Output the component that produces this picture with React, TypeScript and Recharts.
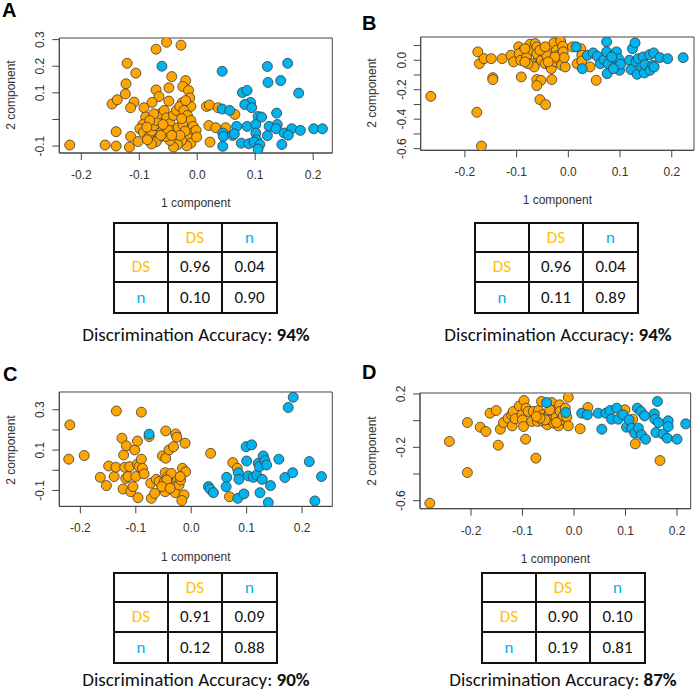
import { ReferenceArea, Scatter, ScatterChart, XAxis, YAxis } from "recharts";

type Pt = [number, number];

const COLORS = {
  ds: "#FFA500",
  n: "#00B2EE",
  dotStroke: "#3a3a3a",
  frame: "#444",
  text: "#333",
  dsHead: "#FFC000",
  nHead: "#00B0F0",
};

const xTicks = [-0.2, -0.1, 0, 0.1, 0.2];

// panel A
const aTicksY = [-0.1, 0, 0.1, 0.2, 0.3];
const aLabelsY = [-0.1, 0.1, 0.2, 0.3];
const aDS: Pt[] = [
  [-0.22, -0.096], [-0.159, -0.096], [-0.14, -0.1], [-0.117, -0.104], [-0.14, -0.046],
  [-0.115, -0.064], [-0.102, -0.083], [-0.147, 0.058], [-0.138, 0.074], [-0.124, 0.096],
  [-0.123, 0.134], [-0.121, 0.211], [-0.106, 0.174], [-0.109, 0.065], [-0.115, 0.044],
  [-0.071, 0.264], [-0.053, 0.29], [-0.028, 0.279], [-0.044, 0.161], [-0.02, 0.146],
  [-0.071, 0.111], [-0.049, 0.119], [-0.025, 0.124], [-0.015, 0.109], [-0.013, 0.081],
  [-0.066, 0.086], [-0.078, 0.064], [-0.049, 0.069], [-0.026, 0.063], [-0.011, 0.049],
  [0.016, 0.049], [0.021, 0.054], [0.036, 0.044], [0.065, 0.019], [0.02, -0.023],
  [0.032, -0.031], [0.049, -0.031], [0.022, -0.085],
  [-0.092, 0.044], [-0.089, 0.009], [-0.094, -0.019], [-0.099, -0.035], [-0.093, -0.048],
  [-0.084, -0.066], [-0.079, -0.044], [-0.075, -0.023], [-0.07, -0.004], [-0.064, 0.021],
  [-0.057, 0.034], [-0.053, 0.006], [-0.047, -0.016], [-0.041, 0.015], [-0.036, 0.034],
  [-0.03, 0.049], [-0.023, 0.034], [-0.017, 0.015], [-0.011, -0.004], [-0.007, -0.026],
  [-0.01, -0.051], [-0.016, -0.069], [-0.011, -0.089], [-0.018, -0.099], [-0.027, -0.079],
  [-0.034, -0.094], [-0.041, -0.104], [-0.047, -0.079], [-0.054, -0.064], [-0.06, -0.044],
  [-0.066, -0.069], [-0.071, -0.084], [-0.079, -0.092], [-0.086, -0.076], [-0.041, -0.041],
  [-0.033, -0.031], [-0.025, -0.019], [-0.021, -0.044], [-0.03, -0.06], [-0.05, -0.041],
  [-0.059, -0.019], [-0.075, 0.021], [-0.082, -0.004], [-0.087, -0.029], [-0.063, -0.06],
  [-0.044, -0.06], [-0.02, 0.071], [-0.027, 0.003], [-0.002, -0.041], [-0.001, -0.066],
];
const aN: Pt[] = [
  [-0.061, 0.2], [0.043, 0.181], [0.121, 0.199], [0.156, 0.211], [0.122, 0.139],
  [0.144, 0.146], [0.175, 0.099], [0.078, 0.101], [0.086, 0.109], [0.092, 0.064],
  [0.082, 0.056], [0.094, 0.044], [0.043, 0.039], [0.056, 0.034], [0.137, 0.024],
  [0.105, 0.011], [0.111, 0.009], [0.068, -0.026], [0.086, -0.026], [0.101, -0.019],
  [0.124, -0.026], [0.138, -0.019], [0.136, -0.035], [0.163, -0.035], [0.178, -0.041],
  [0.201, -0.035], [0.216, -0.035], [0.15, -0.051], [0.157, -0.059], [0.044, -0.051],
  [0.045, -0.064], [0.061, -0.06], [0.064, -0.054], [0.101, -0.051], [0.121, -0.061],
  [0.102, -0.076], [0.076, -0.089], [0.089, -0.091], [0.098, -0.084], [0.108, -0.094],
  [0.105, -0.111], [0.146, -0.094], [0.044, -0.101],
];

// panel B
const bTicksY = [-0.6, -0.5, -0.4, -0.3, -0.2, -0.1, 0, 0.1];
const bLabelsY = [-0.6, -0.4, -0.2, 0];
const bDS: Pt[] = [
  [-0.266, -0.245], [-0.177, -0.353], [-0.168, -0.582], [-0.175, 0.057], [-0.172, -0.023],
  [-0.163, 0.011], [-0.149, 0.011], [-0.146, -0.118], [-0.146, -0.131], [-0.128, 0.011],
  [-0.111, 0.034], [-0.106, -0.011], [-0.091, -0.113], [-0.096, 0.091], [-0.087, 0.068],
  [-0.095, 0.045], [-0.092, 0], [-0.081, 0.023], [-0.074, 0.109], [-0.069, 0.068],
  [-0.064, 0.113], [-0.061, 0.091], [-0.071, -0.023], [-0.066, -0.045], [-0.058, 0.023],
  [-0.061, 0.045], [-0.052, 0], [-0.048, 0.057], [-0.045, -0.023], [-0.061, -0.131],
  [-0.053, -0.136], [-0.061, -0.172], [-0.055, -0.267], [-0.044, -0.301], [-0.035, 0.045],
  [-0.032, 0.011], [-0.035, -0.034], [-0.033, -0.057], [-0.032, -0.131], [-0.028, 0.118],
  [-0.023, 0.068], [-0.019, 0.034], [-0.024, -0.011], [-0.016, 0], [-0.015, 0.131],
  [-0.011, 0.095], [-0.01, 0.057], [-0.013, -0.034], [-0.006, -0.045], [-0.008, 0.018],
  [0.008, 0.091], [0.024, 0.079], [0.026, 0.034], [0.017, -0.023], [0.026, -0.005],
  [0.042, -0.045], [0.054, -0.136], [-0.084, 0.079], [-0.078, -0.023], [-0.042, 0.034],
  [-0.026, 0.023], [-0.039, -0.011], [-0.055, 0.068], [-0.045, 0.091], [-0.084, -0.011],
];
const bN: Pt[] = [
  [0.015, 0.091], [0.027, -0.057], [0.037, 0.034], [0.048, 0.05], [0.056, 0.027],
  [0.062, -0.023], [0.069, 0.005], [0.074, 0.125], [0.074, 0.057], [0.077, -0.023],
  [0.075, -0.091], [0.087, 0.034], [0.09, -0.045], [0.093, 0.057], [0.097, 0.011],
  [0.099, -0.068], [0.101, -0.027], [0.087, -0.057], [0.118, 0], [0.121, -0.063],
  [0.124, 0.079], [0.129, 0.118], [0.131, -0.011], [0.135, 0.011], [0.133, -0.095],
  [0.142, -0.045], [0.145, 0.023], [0.147, -0.086], [0.148, -0.029], [0.157, 0.038],
  [0.158, -0.068], [0.163, -0.034], [0.165, 0.05], [0.166, -0.045], [0.177, 0.018],
  [0.192, 0.011], [0.222, 0.018], [0.084, 0.023],
];

// panel C
const cTicksY = [-0.1, 0, 0.1, 0.2, 0.3];
const cLabelsY = [-0.1, 0.1, 0.3];
const cDS: Pt[] = [
  [-0.219, 0.225], [-0.221, 0.055], [-0.193, 0.073], [-0.135, 0.294], [-0.09, 0.288],
  [-0.164, -0.035], [-0.153, -0.076], [-0.149, 0.021], [-0.139, -0.031], [-0.136, 0.015],
  [-0.125, 0.159], [-0.122, 0.076], [-0.117, 0.121], [-0.123, -0.093], [-0.12, 0.015],
  [-0.118, -0.04], [-0.114, -0.031], [-0.111, 0.018], [-0.109, -0.106], [-0.102, 0.101],
  [-0.097, 0.145], [-0.1, -0.031], [-0.105, -0.081], [-0.097, 0.031], [-0.094, 0.018],
  [-0.096, -0.136], [-0.09, 0.055], [-0.088, 0.01], [-0.085, -0.018], [-0.076, 0.167],
  [-0.072, -0.139], [-0.073, -0.064], [-0.066, -0.114], [-0.063, -0.045], [-0.058, -0.056],
  [-0.052, 0.071], [-0.046, 0.06], [-0.046, 0.195], [-0.049, -0.058], [-0.047, -0.012],
  [-0.047, -0.106], [-0.042, -0.031], [-0.04, 0.101], [-0.036, -0.064], [-0.032, 0.117],
  [-0.029, -0.081], [-0.029, -0.111], [-0.028, 0.18], [-0.026, 0.164], [-0.025, -0.04],
  [-0.022, -0.073], [-0.019, -0.048], [-0.016, 0.01], [-0.013, -0.122], [-0.017, -0.15],
  [-0.011, 0.134], [-0.01, -0.007], [-0.036, -0.015], [-0.044, -0.048], [-0.053, -0.081],
  [-0.038, -0.089], [-0.02, -0.031], [0.035, 0.084], [0.075, 0.038], [0.083, 0.01],
  [0.069, -0.131],
];
const cN: Pt[] = [
  [-0.076, 0.179], [0.031, -0.081], [0.034, -0.093], [0.04, -0.111], [0.064, -0.035],
  [0.063, -0.081], [0.084, -0.139], [0.085, -0.012], [0.086, -0.045], [0.095, -0.117],
  [0.099, 0.117], [0.1, 0.046], [0.103, -0.028], [0.109, 0.126], [0.112, -0.035],
  [0.118, -0.023], [0.121, 0.035], [0.123, 0.018], [0.124, -0.111], [0.128, -0.045],
  [0.13, 0.071], [0.133, 0.048], [0.136, 0.026], [0.139, -0.16], [0.143, -0.076],
  [0.158, 0.055], [0.169, -0.036], [0.175, 0.311], [0.183, -0.012], [0.184, 0.362],
  [0.213, 0.043], [0.223, -0.152], [0.235, -0.031],
];

// panel D
const dTicksY = [-0.6, -0.4, -0.2, 0, 0.2];
const dLabelsY = [-0.6, -0.2, 0.2];
const dDS: Pt[] = [
  [-0.28, -0.619], [-0.242, -0.156], [-0.207, -0.389], [-0.207, -0.014], [-0.182, -0.049],
  [-0.171, -0.081], [-0.163, 0.056], [-0.151, 0.076], [-0.147, -0.184], [-0.143, -0.064],
  [-0.137, -0.014], [-0.128, 0.019], [-0.121, 0.044], [-0.12, -0.039], [-0.118, 0.069],
  [-0.114, 0.014], [-0.106, 0.111], [-0.101, 0.044], [-0.1, 0.006], [-0.098, -0.044],
  [-0.097, 0.151], [-0.094, -0.139], [-0.093, 0.094], [-0.089, 0.069], [-0.082, -0.006],
  [-0.079, 0.069], [-0.074, -0.281], [-0.071, -0.006], [-0.069, 0.076], [-0.063, 0.144],
  [-0.061, 0.044], [-0.06, -0.006], [-0.053, 0.026], [-0.052, -0.031], [-0.048, 0.051],
  [-0.045, 0.006], [-0.043, 0.136], [-0.04, 0.076], [-0.039, -0.019], [-0.035, 0.026],
  [-0.03, -0.039], [-0.028, 0.119], [-0.027, 0.069], [-0.026, 0.006], [-0.021, 0.036],
  [-0.017, 0.094], [-0.014, 0.026], [-0.011, -0.039], [-0.011, 0.176], [0.012, -0.061],
  [0.027, 0.099], [0.099, 0.081], [0.114, 0.011], [0.119, -0.174], [0.167, -0.299],
  [-0.047, 0.081], [-0.056, 0.006], [-0.066, 0.019], [-0.034, -0.014], [-0.073, 0.031],
];
const dN: Pt[] = [
  [-0.053, 0.136], [-0.016, 0.061], [0.015, 0.056], [0.026, 0.044], [0.047, 0.056],
  [0.054, -0.064], [0.062, 0.056], [0.07, 0.076], [0.073, 0.011], [0.083, 0.094],
  [0.086, 0.011], [0.095, 0.044], [0.102, -0.049], [0.107, 0.006], [0.112, -0.056],
  [0.118, -0.094], [0.123, 0.094], [0.125, -0.056], [0.13, 0.069], [0.131, -0.106],
  [0.137, 0.036], [0.139, -0.139], [0.156, 0.051], [0.157, 0.011], [0.159, -0.089],
  [0.162, 0.144], [0.164, -0.014], [0.173, -0.101], [0.181, -0.131], [0.183, -0.001],
  [0.183, -0.044], [0.2, -0.139], [0.217, -0.024],
];

// confusion tables (rows: DS, n)
const tableA = [[0.96, 0.04], [0.1, 0.9]];
const tableB = [[0.96, 0.04], [0.11, 0.89]];
const tableC = [[0.91, 0.09], [0.12, 0.88]];
const tableD = [[0.9, 0.1], [0.19, 0.81]];
const accuracy = [94, 94, 90, 87];

interface Box {
  l: number;
  t: number;
  r: number;
  b: number;
}

interface PanelProps {
  letter: string;
  letterX: number;
  letterY: number;
  chartLeft: number;
  box: Box;
  xDomain: [number, number];
  yDomain: [number, number];
  yTicks: number[];
  yLabels: number[];
  ds: Pt[];
  n: Pt[];
}

const tickFont = { fontFamily: "'Liberation Sans', Arial, sans-serif", fontSize: 12, fill: COLORS.text };

const toRows = (pts: Pt[]) => pts.map(([x, y]) => ({ x, y }));

const dot = (fill: string) => (props: any) => (
  <circle cx={props.cx} cy={props.cy} r={5} fill={fill} stroke={COLORS.dotStroke} strokeWidth={0.8} />
);

function Panel({ letter, letterX, letterY, chartLeft, box, xDomain, yDomain, yTicks, yLabels, ds, n }: PanelProps) {
  const chartTop = box.t - 10;
  const width = chartLeft === 0 ? 345 : 697 - chartLeft;
  const height = box.b + 34 - chartTop;
  const yAxisW = box.l - chartLeft;
  const xAxisH = chartTop + height - box.b;
  const boxBottom = box.b - chartTop;

  const xTick = (p: any) => (
    <text x={p.x} y={boxBottom + 26} textAnchor="middle" {...tickFont}>
      {p.payload.value.toFixed(1)}
    </text>
  );
  const yTick = (p: any) => {
    const v = p.payload.value;
    if (!yLabels.some((l) => Math.abs(l - v) < 1e-9)) return <g />;
    const x = yAxisW - 19;
    return (
      <text x={x} y={p.y} transform={`rotate(-90, ${x}, ${p.y})`} textAnchor="middle" dominantBaseline="central" {...tickFont}>
        {v.toFixed(1)}
      </text>
    );
  };

  return (
    <>
      <div style={{ position: "absolute", left: letterX, top: letterY - 19, font: "bold 20px 'Liberation Sans', Arial, sans-serif", lineHeight: "23px" }}>
        {letter}
      </div>
      <div style={{ position: "absolute", left: chartLeft, top: chartTop }}>
        <ScatterChart width={width} height={height} margin={{ top: 10, right: chartLeft + width - box.r, left: 0, bottom: 0 }}>
          <XAxis
            type="number"
            dataKey="x"
            domain={xDomain}
            ticks={xTicks}
            allowDataOverflow
            interval={0}
            height={xAxisH}
            tickSize={7}
            tickLine={{ stroke: COLORS.frame }}
            axisLine={{ stroke: COLORS.frame }}
            tick={xTick}
          />
          <YAxis
            type="number"
            dataKey="y"
            domain={yDomain}
            ticks={yTicks}
            allowDataOverflow
            interval={0}
            width={yAxisW}
            tickSize={7}
            tickLine={{ stroke: COLORS.frame }}
            axisLine={{ stroke: COLORS.frame }}
            tick={yTick}
          />
          <Scatter data={toRows(ds)} isAnimationActive={false} shape={dot(COLORS.ds)} />
          <Scatter data={toRows(n)} isAnimationActive={false} shape={dot(COLORS.n)} />
          <ReferenceArea x1={xDomain[0]} x2={xDomain[1]} y1={yDomain[0]} y2={yDomain[1]} fill="none" stroke={COLORS.frame} strokeWidth={1} />
        </ScatterChart>
      </div>
      <div
        style={{
          position: "absolute",
          left: box.l - 48.5 - 60,
          top: (box.t + box.b) / 2 - 8,
          width: 120,
          height: 16,
          textAlign: "center",
          transform: "rotate(-90deg)",
          font: "12px 'Liberation Sans', Arial, sans-serif",
          lineHeight: "16px",
          color: COLORS.text,
        }}
      >
        2 component
      </div>
      <div
        style={{
          position: "absolute",
          left: (box.l + box.r) / 2 - 60,
          top: box.b + 42,
          width: 120,
          textAlign: "center",
          font: "12px 'Liberation Sans', Arial, sans-serif",
          lineHeight: "16px",
          color: COLORS.text,
        }}
      >
        1 component
      </div>
    </>
  );
}

const cellFont = "17px Carlito, Lato, 'Open Sans', sans-serif";

interface ConfusionProps {
  left: number;
  top: number;
  values: number[][];
  acc: number;
  accCenter: number;
  accY: number;
}

function Confusion({ left, top, values, acc, accCenter, accY }: ConfusionProps) {
  const cells: { text: string; color: string }[] = [
    { text: "", color: "#000" },
    { text: "DS", color: COLORS.dsHead },
    { text: "n", color: COLORS.nHead },
    { text: "DS", color: COLORS.dsHead },
    { text: values[0][0].toFixed(2), color: "#111" },
    { text: values[0][1].toFixed(2), color: "#111" },
    { text: "n", color: COLORS.nHead },
    { text: values[1][0].toFixed(2), color: "#111" },
    { text: values[1][1].toFixed(2), color: "#111" },
  ];
  return (
    <>
      <div
        style={{
          position: "absolute",
          left,
          top,
          width: 165,
          height: 92,
          boxSizing: "border-box",
          border: "2px solid #111",
          display: "grid",
          gridTemplateColumns: "54px 54px 1fr",
          gridTemplateRows: "1fr 1fr 1fr",
        }}
      >
        {cells.map((c, i) => (
          <div
            key={i}
            style={{
              borderRight: i % 3 < 2 ? "2px solid #111" : "none",
              borderBottom: i < 6 ? "2px solid #111" : "none",
              display: "flex",
              alignItems: "center",
              justifyContent: "center",
              font: cellFont,
              color: c.color,
            }}
          >
            {c.text}
          </div>
        ))}
      </div>
      <div
        style={{
          position: "absolute",
          left: accCenter - 150,
          top: accY - 9,
          width: 300,
          textAlign: "center",
          font: "19px Carlito, Lato, 'Open Sans', sans-serif",
          lineHeight: "18px",
          color: "#111",
        }}
      >
        Discrimination Accuracy: <b>{acc}%</b>
      </div>
    </>
  );
}

export default function App() {
  return (
    <div style={{ position: "absolute", left: 0, top: 0, width: 697, height: 693, background: "#fff" }}>
      <Panel
        letter="A"
        letterX={2}
        letterY={18}
        chartLeft={0}
        box={{ l: 59.3, t: 37.7, r: 332.3, b: 152.7 }}
        xDomain={[-0.238, 0.233]}
        yDomain={[-0.126, 0.306]}
        yTicks={aTicksY}
        yLabels={aLabelsY}
        ds={aDS}
        n={aN}
      />
      <Panel
        letter="B"
        letterX={362}
        letterY={31}
        chartLeft={355}
        box={{ l: 420.7, t: 36.7, r: 694, b: 150 }}
        xDomain={[-0.2855, 0.243]}
        yDomain={[-0.611, 0.158]}
        yTicks={bTicksY}
        yLabels={bLabelsY}
        ds={bDS}
        n={bN}
      />
      <Panel
        letter="C"
        letterX={3}
        letterY={382}
        chartLeft={0}
        box={{ l: 59.3, t: 392.3, r: 332.3, b: 506.7 }}
        xDomain={[-0.238, 0.2545]}
        yDomain={[-0.179, 0.388]}
        yTicks={cTicksY}
        yLabels={cLabelsY}
        ds={cDS}
        n={cN}
      />
      <Panel
        letter="D"
        letterX={362}
        letterY={380}
        chartLeft={355}
        box={{ l: 420, t: 393.3, r: 690.7, b: 509 }}
        xDomain={[-0.299, 0.2266]}
        yDomain={[-0.66, 0.2075]}
        yTicks={dTicksY}
        yLabels={dLabelsY}
        ds={dDS}
        n={dN}
      />
      <Confusion left={113} top={222} values={tableA} acc={accuracy[0]} accCenter={196} accY={335} />
      <Confusion left={474} top={222} values={tableB} acc={accuracy[1]} accCenter={558} accY={335} />
      <Confusion left={113} top={572} values={tableC} acc={accuracy[2]} accCenter={196} accY={680} />
      <Confusion left={481} top={572} values={tableD} acc={accuracy[3]} accCenter={563} accY={680} />
    </div>
  );
}
